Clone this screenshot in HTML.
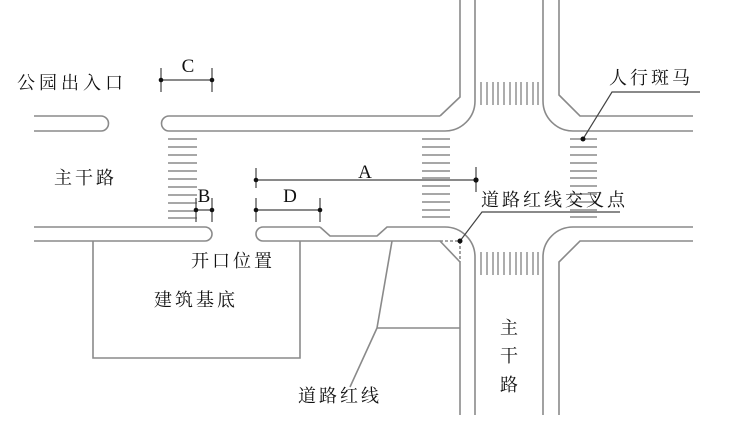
<!DOCTYPE html>
<html><head><meta charset="utf-8"><style>
html,body{margin:0;padding:0;background:#fff;width:735px;height:422px;overflow:hidden}
svg{display:block}
text{font-family:"Liberation Serif","Noto Serif CJK SC",serif;fill:#111}
</style></head><body>
<svg width="735" height="422" viewBox="0 0 735 422" xmlns="http://www.w3.org/2000/svg">
<g fill="none" stroke="#8a8a8a" stroke-width="1.6">
<!-- left upper road stub -->
<path d="M34 116 H101 A7.5 7.5 0 0 1 101 131 H34"/>
<!-- upper band from 161 to intersection -->
<path d="M440 116 H169 A7.5 7.5 0 0 0 169 131 H445 A30 30 0 0 0 475 101 V0"/>
<path d="M460 0 V97 L440 116"/>
<!-- upper right -->
<path d="M543 0 V101 A30 30 0 0 0 573 131 H693"/>
<path d="M559 0 V95 L580 116 H693"/>
<!-- lower left band -->
<path d="M34 227 H205 A7 7 0 0 1 205 241 H34"/>
<!-- lower band right of opening -->
<path d="M320 227 H263 A7 7 0 0 0 263 241 H440 L460 262"/>
<path d="M320 227 L330 236 H377 L387 227 H445 A30 30 0 0 1 475 257 V415"/>
<path d="M460 262 V415"/>
<path d="M440 241 H460 V262" stroke-dasharray="3 2"/>
<!-- lower right -->
<path d="M693 227 H573 A30 30 0 0 0 543 257 V415"/>
<path d="M693 241 H580 L559 262 V415"/>
<!-- building -->
<path d="M93 241 V358 H300 V241"/>
<!-- red line -->
<path d="M392 241 L377 328 H460 M377 328 L350 387"/>
</g>
<!-- crosswalks -->
<g stroke="#8a8a8a" stroke-width="1.4">
<path d="M168 139H197M168 147H197M168 155H197M168 163H197M168 171H197M168 179H197M168 187H197M168 195H197M168 203H197M168 211H197M168 218H197"/>
<path d="M422 139H450M422 147H450M422 155H450M422 163H450M422 171H450M422 178H450M422 186H450M422 194H450M422 202H450M422 210H450M422 217H450"/>
<path d="M570 139H597M570 147H597M570 155H597M570 163H597M570 171H597M570 178H597M570 186H597M570 194H597M570 202H597M570 210H597M570 217H597"/>
<path d="M481 82V105M487 82V105M493 82V105M498 82V105M504 82V105M510 82V105M516 82V105M521 82V105M527 82V105M533 82V105M538 82V105"/>
<path d="M481 252V275M487 252V275M493 252V275M498 252V275M504 252V275M510 252V275M516 252V275M521 252V275M527 252V275M533 252V275M538 252V275"/>
</g>
<!-- dimensions -->
<g stroke="#444" stroke-width="1.2" fill="none">
<path d="M161 80H212M161 68V92M212 68V92"/>
<path d="M196 210H212M196 198V222M212 198V222"/>
<path d="M256 210H320M256 198V222M320 198V222"/>
<path d="M256 180H476M256 168V188M476 167V192"/>
<path d="M700 92H612L583 139"/>
<path d="M620 212H482L460 241"/>
</g>
<g fill="#111">
<circle cx="161" cy="80" r="2.3"/><circle cx="212" cy="80" r="2.3"/>
<circle cx="196" cy="210" r="2.3"/><circle cx="212" cy="210" r="2.3"/>
<circle cx="256" cy="210" r="2.3"/><circle cx="320" cy="210" r="2.3"/>
<circle cx="256" cy="180" r="2.3"/><circle cx="476" cy="180" r="2.6"/>
<circle cx="583" cy="139" r="2.5"/><circle cx="460" cy="241" r="2.5"/>
</g>
<g font-size="18">
<text x="188" y="72" text-anchor="middle" font-size="19">C</text>
<text x="204" y="202" text-anchor="middle" font-size="19">B</text>
<text x="290" y="202" text-anchor="middle" font-size="19">D</text>
<text x="365" y="178" text-anchor="middle" font-size="19">A</text>
<text x="17" y="89" letter-spacing="4">公园出入口</text>
<text x="54" y="184" letter-spacing="3">主干路</text>
<text x="191" y="267" letter-spacing="3">开口位置</text>
<text x="154" y="306" letter-spacing="3">建筑基底</text>
<text x="298" y="402" letter-spacing="3">道路红线</text>
<text x="481" y="206" letter-spacing="3">道路红线交叉点</text>
<text x="609" y="84" letter-spacing="3">人行斑马</text>
<text x="500" y="334">主</text>
<text x="500" y="362">干</text>
<text x="500" y="391">路</text>
</g>
</svg>
</body></html>
